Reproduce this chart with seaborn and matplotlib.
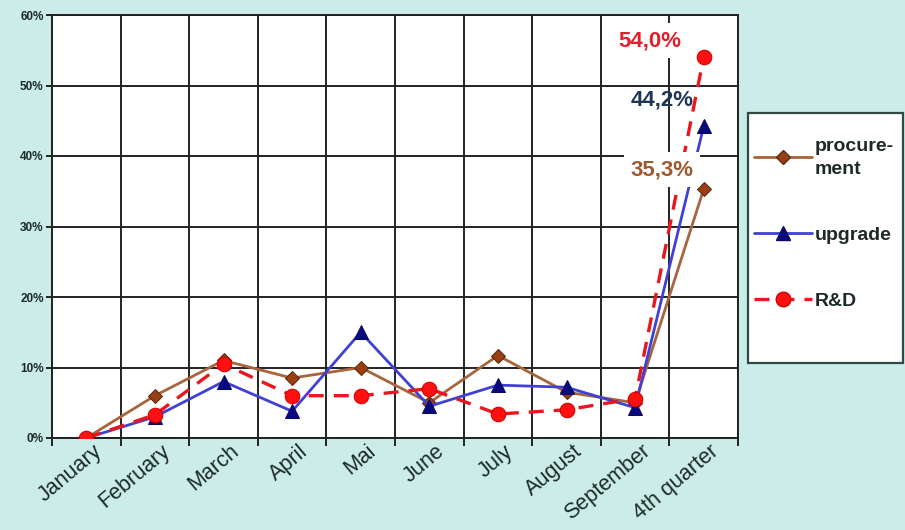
import numpy as np
import pandas as pd
import matplotlib
matplotlib.use("Agg")
import matplotlib.pyplot as plt
import matplotlib.transforms as mtransforms
from matplotlib.patches import Rectangle
from matplotlib.lines import Line2D
from matplotlib.ticker import FixedLocator, PercentFormatter
import seaborn as sns

# Share of the annual volume reached per period, in percent
periods = ["January", "February", "March", "April", "Mai", "June",
           "July", "August", "September", "4th quarter"]
procurement = [0.0, 6.0, 11.0, 8.5, 10.0, 5.0, 11.7, 6.5, 5.0, 35.3]
upgrade = [0.0, 3.0, 8.0, 3.8, 15.0, 4.5, 7.5, 7.2, 4.3, 44.2]
research = [0.0, 3.3, 10.5, 6.0, 6.0, 7.0, 3.4, 4.0, 5.6, 54.0]
series_names = ["procurement", "upgrade", "R&D"]
legend_labels = ["procure-\nment", "upgrade", "R&D"]
y_ticks = [0, 10, 20, 30, 40, 50, 60]

df = pd.DataFrame({
    "pos": np.arange(len(periods)),
    "period": periods,
    "procurement": procurement,
    "upgrade": upgrade,
    "R&D": research,
})

sns.set_style("white")
plt.rcParams["font.family"] = ["Liberation Sans", "DejaVu Sans"]

BG = "#CBECE8"
TEXT = "#1C2B26"

fig = plt.figure(figsize=(9.05, 5.30), dpi=100, facecolor=BG)
ax = fig.add_axes([52 / 905, 92 / 530, 686 / 905, 423 / 530])
ax.set_facecolor("white")

styles = {
    "procurement": dict(color="#A8643C", marker="D", markersize=7.5,
                        markerfacecolor="#9A3F14", markeredgecolor="#5A2A10",
                        linewidth=2.0, linestyle="-"),
    "upgrade": dict(color="#4040D4", marker="^", markersize=10,
                    markerfacecolor="#0A0A80", markeredgecolor="#0A0A60",
                    linewidth=2.0, linestyle="-"),
    "R&D": dict(color="#E8161E", marker="o", markersize=10.5,
                markerfacecolor="#FF1010", markeredgecolor="#D00000",
                linewidth=2.4, linestyle=(0, (4.5, 3))),
}

for z, name in enumerate(series_names):
    sns.lineplot(data=df, x="pos", y=name, ax=ax, legend=False,
                 zorder=3 + z, **styles[name])

# Axes, grid and ticks
ax.set_xlim(-0.5, len(periods) - 0.5)
ax.set_ylim(0, 60)
ax.set_xlabel("")
ax.set_ylabel("")
ax.yaxis.set_major_locator(FixedLocator(y_ticks))
ax.yaxis.set_major_formatter(PercentFormatter(decimals=0))
ax.set_xticks(np.arange(len(periods)))
ax.set_xticklabels(periods)
ax.set_xticks(np.arange(len(periods) + 1) - 0.5, minor=True)
ax.tick_params(axis="x", which="major", length=0, pad=2)
ax.tick_params(axis="x", which="minor", length=6, width=1.4, color="#222222",
               direction="out", bottom=True)
ax.tick_params(axis="y", which="major", length=4, width=1.4, color="#222222",
               direction="out", left=True, pad=2)
ax.grid(False)
ax.grid(True, axis="y", which="major", color="#222222", linewidth=1.4, zorder=1)
ax.grid(True, axis="x", which="minor", color="#222222", linewidth=1.4, zorder=1)
ax.set_axisbelow(True)
for sp in ax.spines.values():
    sp.set_visible(True)
    sp.set_color("#222222")
    sp.set_linewidth(1.4)

for lab in ax.get_yticklabels():
    lab.set_fontsize(8.5)
    lab.set_fontweight("bold")
    lab.set_color(TEXT)

shift = mtransforms.ScaledTranslation(6 / 100, 0, fig.dpi_scale_trans)
for lab in ax.get_xticklabels():
    lab.set_rotation(40)
    lab.set_ha("right")
    lab.set_va("top")
    lab.set_rotation_mode("anchor")
    lab.set_fontsize(15.5)
    lab.set_color(TEXT)
    lab.set_transform(lab.get_transform() + shift)

# Value labels on the last period
last = len(periods) - 1
value_labels = [
    ("R&D", research[last], "#E0202A", (-39, 12), True),
    ("upgrade", upgrade[last], "#1F3557", (-30, 19), False),
    ("procurement", procurement[last], "#9C5A30", (-30, 14), True),
]
for name, val, col, off, boxed in value_labels:
    txt = f"{val:.1f}".replace(".", ",") + "%"
    kw = dict(bbox=dict(facecolor="white", edgecolor="none", pad=5)) if boxed else {}
    ax.annotate(txt, xy=(last, val), xytext=off, textcoords="offset points",
                ha="center", va="center", fontsize=16, fontweight="bold",
                color=col, zorder=10, annotation_clip=False, **kw)

# Legend in a framed box to the right of the plot
fig.patches.append(Rectangle((748 / 905, 167 / 530), 155 / 905, 250 / 530,
                             transform=fig.transFigure, facecolor="white",
                             edgecolor="#2F4A44", linewidth=1.6, zorder=0))
handles = [Line2D([], [], **styles[n]) for n in series_names]
leg = fig.legend(handles, legend_labels, loc="upper left",
                 bbox_to_anchor=(744 / 905, 1 - 128 / 530), frameon=False,
                 borderpad=0, labelspacing=2.5, handlelength=3.0,
                 handletextpad=0.15, prop=dict(size=14, weight="bold"),
                 labelcolor=TEXT)
for t in leg.get_texts():
    t.set_linespacing(1.45)

fig.savefig("out.png", dpi=100, facecolor=BG)
